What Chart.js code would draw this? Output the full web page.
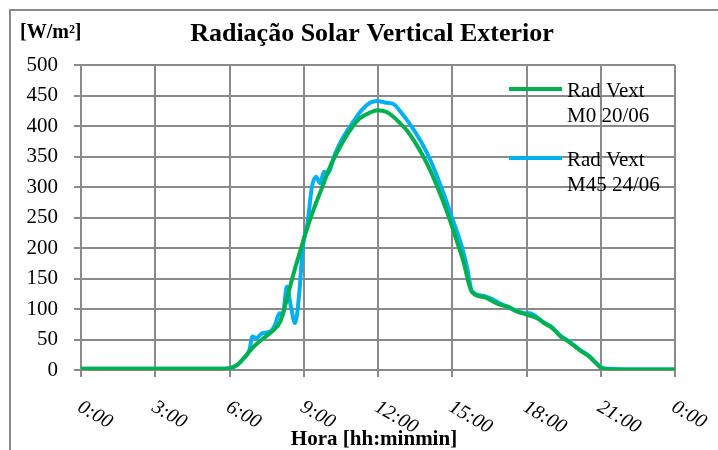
<!DOCTYPE html>
<html><head><meta charset="utf-8">
<script src="https://cdn.jsdelivr.net/npm/chart.js@4.4.1/dist/chart.umd.min.js"></script>
<style>html,body{margin:0;padding:0;background:#fff}canvas{display:block}</style>
</head><body>
<canvas id="c" width="718" height="450"></canvas>
<script>
const chartTitle = 'Radiação Solar Vertical Exterior';
const yUnitLabel = '[W/m²]';
const xAxisTitle = 'Hora [hh:minmin]';
const xTickValues = [0, 3, 6, 9, 12, 15, 18, 21, 24];
const xTickLabels = ['0:00', '3:00', '6:00', '9:00', '12:00', '15:00', '18:00', '21:00', '0:00'];
const legendLinesM0 = ['Rad Vext', 'M0 20/06'];
const legendLinesM45 = ['Rad Vext', 'M45 24/06'];

const m0Hours = [0, 2, 4, 5.5, 6.0, 6.3, 6.63, 6.97, 7.37, 7.71, 8.05, 8.31, 8.52, 8.79, 9.12, 9.39, 9.73, 10.06, 10.47, 10.87, 11.28, 11.68, 11.97, 12.35, 12.76, 13.16, 13.56, 13.97, 14.37, 14.78, 15.18, 15.45, 15.79, 16.32, 16.66, 16.93, 17.3, 17.6, 18.0, 18.47, 18.74, 19.0, 19.35, 19.75, 20.16, 20.56, 20.83, 21.03, 21.37, 22, 23, 24];
const m0Values = [2, 2, 2, 2, 3, 8, 22, 38, 52, 63, 79, 115, 148, 186, 230, 262, 298, 333, 366, 393, 413, 422, 426, 423, 410, 393, 369, 339, 303, 260, 212, 178, 128, 119, 112, 107, 103, 96, 91, 84, 76, 70, 56, 45, 32, 21, 10, 3, 1, 1, 1, 1];

const m45Hours = [0, 2, 4, 5.5, 6.0, 6.3, 6.6, 6.8, 6.93, 7.08, 7.31, 7.64, 7.84, 8.02, 8.15, 8.32, 8.48, 8.65, 8.83, 8.96, 9.15, 9.33, 9.5, 9.66, 9.82, 9.96, 10.27, 10.6, 11.0, 11.34, 11.68, 11.97, 12.35, 12.62, 12.96, 13.36, 13.77, 14.17, 14.57, 14.98, 15.38, 15.6, 15.79, 16.32, 16.66, 16.93, 17.2, 17.6, 18.0, 18.14, 18.47, 18.74, 19.0, 19.35, 19.75, 20.16, 20.56, 20.83, 21.03, 21.37, 22, 23, 24];
const m45Values = [2, 2, 2, 2, 3, 8, 20, 32, 55, 52, 60, 63, 74, 93, 90, 137, 104, 77, 131, 202, 240, 300, 317, 306, 325, 322, 355, 382, 407, 426, 438, 441, 438, 436, 421, 399, 372, 339, 298, 251, 203, 168, 130, 121, 115, 109, 104, 97, 93, 93, 85, 77, 71, 57, 46, 33, 22, 11, 4, 2, 1, 1, 1];

const toPoints = (hs, vs) => hs.map((h, i) => ({x: h, y: vs[i]}));
const gridColor = '#8a8a8a';
const serif = '"Liberation Serif", "Times New Roman", serif';

const decor = {
  id: 'decor',
  beforeDraw(chart) {
    const ctx = chart.ctx;
    ctx.save();
    ctx.fillStyle = '#fff';
    ctx.fillRect(0, 0, chart.width, chart.height);
    ctx.strokeStyle = gridColor;
    ctx.lineWidth = 2;
    ctx.strokeRect(10, 10, chart.width + 20, chart.height + 20);
    ctx.restore();
  },
  afterDraw(chart) {
    const ctx = chart.ctx;
    const xs = chart.scales.x;
    const ca = chart.chartArea;
    ctx.save();
    ctx.fillStyle = '#000';
    ctx.textBaseline = 'alphabetic';
    ctx.font = 'bold 26px ' + serif;
    ctx.textAlign = 'center';
    ctx.fillText(chartTitle, 372, 41);
    ctx.font = 'bold 20px ' + serif;
    ctx.textAlign = 'left';
    ctx.fillText(yUnitLabel, 20, 38);
    ctx.font = 'bold 21px ' + serif;
    ctx.textAlign = 'center';
    ctx.fillText(xAxisTitle, 374, 445);
    ctx.font = 'italic 20px ' + serif;
    ctx.textAlign = 'left';
    ctx.textBaseline = 'top';
    xTickValues.forEach((v, i) => {
      const px = xs.getPixelForValue(v);
      ctx.save();
      ctx.translate(px + 3, ca.bottom + 27);
      ctx.rotate(Math.PI / 6);
      ctx.fillText(xTickLabels[i], 0, 0);
      ctx.restore();
    });
    // legend
    const items = [
      {lines: legendLinesM0, color: chart.data.datasets[0].borderColor, y: 89},
      {lines: legendLinesM45, color: chart.data.datasets[1].borderColor, y: 158}
    ];
    ctx.textBaseline = 'alphabetic';
    ctx.font = '21px ' + serif;
    items.forEach(it => {
      ctx.strokeStyle = it.color;
      ctx.lineWidth = 4;
      ctx.beginPath();
      ctx.moveTo(509, it.y);
      ctx.lineTo(562, it.y);
      ctx.stroke();
      ctx.fillText(it.lines[0], 567, it.y + 8);
      ctx.fillText(it.lines[1], 567, it.y + 33);
    });
    ctx.restore();
  }
};

new Chart(document.getElementById('c'), {
  type: 'line',
  data: {
    datasets: [
      {label: legendLinesM0.join(' '), data: toPoints(m0Hours, m0Values), borderColor: '#00b050', borderWidth: 4, pointRadius: 0, cubicInterpolationMode: 'monotone', borderCapStyle: 'round', borderJoinStyle: 'round', fill: false},
      {label: legendLinesM45.join(' '), data: toPoints(m45Hours, m45Values), borderColor: '#00b0f0', borderWidth: 4, pointRadius: 0, cubicInterpolationMode: 'monotone', borderCapStyle: 'round', borderJoinStyle: 'round', fill: false}
    ]
  },
  options: {
    responsive: false,
    devicePixelRatio: 1,
    animation: false,
    layout: {padding: {left: 0, top: 65, right: 43, bottom: 73}},
    plugins: {legend: {display: false}, title: {display: false}, tooltip: {enabled: false}},
    scales: {
      x: {
        type: 'linear', min: 0, max: 24,
        afterFit(s) { s.height = 7; },
        ticks: {display: false, stepSize: 3},
        afterBuildTicks(s) { s.ticks = xTickValues.map(v => ({value: v})); },
        grid: {color: gridColor, lineWidth: 2, drawTicks: true, tickLength: 7},
        border: {color: gridColor, width: 2}
      },
      y: {
        min: 0, max: 500,
        afterFit(s) { s.width = 81; },
        ticks: {stepSize: 50, padding: 16, color: '#000', font: {family: serif, size: 21}},
        grid: {color: gridColor, lineWidth: 2, drawTicks: true, tickLength: 7},
        border: {color: gridColor, width: 2}
      }
    }
  },
  plugins: [decor]
});
</script>
</body></html>
